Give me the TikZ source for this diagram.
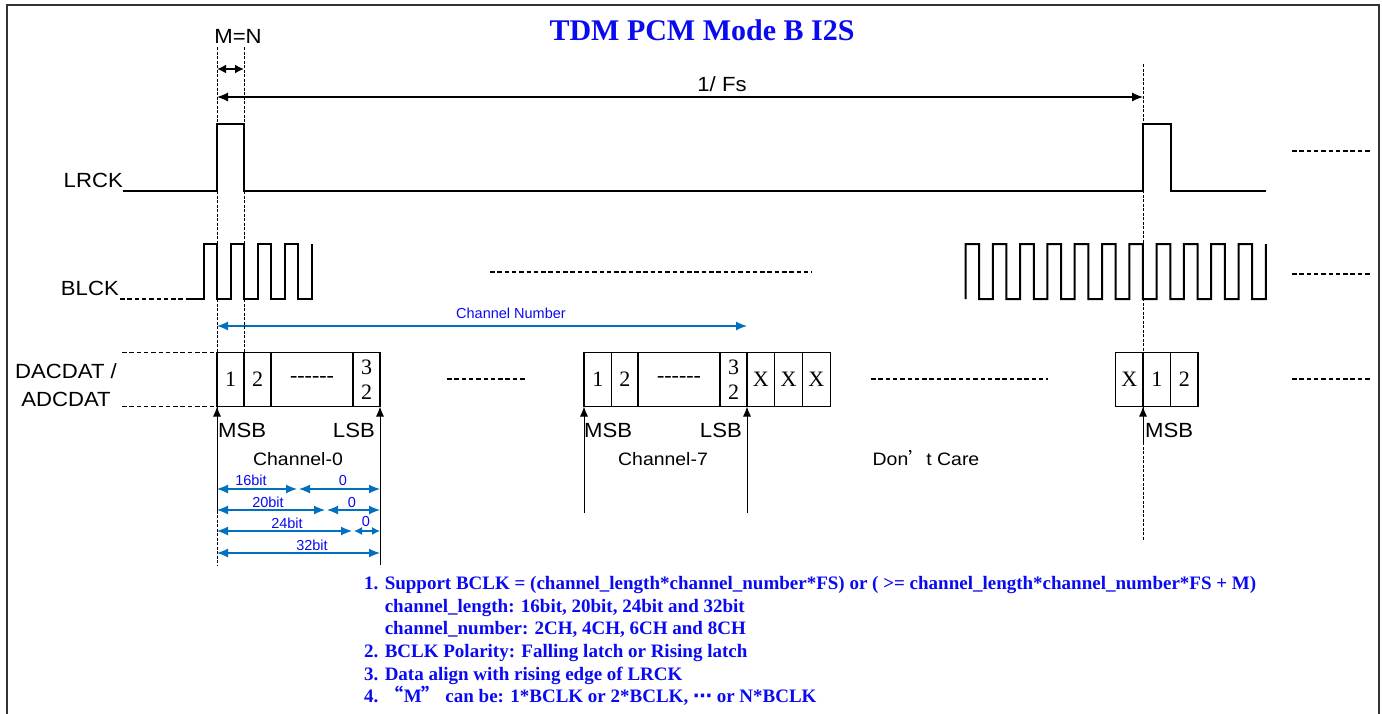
\documentclass[tikz,border=0pt]{standalone}
\usepackage{fontspec}
\setmainfont{Liberation Serif}
\newfontfamily\lab{Liberation Sans}[FakeStretch=1.08]
\newfontfamily\sml{Liberation Sans}
\newfontfamily\cjk{Noto Sans CJK SC}[RawFeature=+fwid]
\newfontfamily\sym{DejaVu Sans}
\usetikzlibrary{arrows.meta,positioning}
\definecolor{ink}{HTML}{0A0AF0}
\definecolor{dimc}{HTML}{0070C0}

\begin{document}
\begin{tikzpicture}[x=1pt, y=-1pt, >=Latex,
  wave/.style={line width=2pt, line join=miter},
  guide/.style={line width=0.8pt, dash pattern=on 3pt off 1.5pt},
  dots/.style={line width=1.6pt, dash pattern=on 4.5pt off 2.8pt},
  cell/.style={draw, line width=1.1pt, minimum height=54pt, inner sep=0pt, outer sep=0pt,
    font=\fontsize{22}{25}\selectfont},
  biglab/.style={font=\lab\fontsize{20.5}{28}\selectfont, inner sep=0pt},
  chlab/.style={font=\lab\fontsize{18}{20}\selectfont, inner sep=0pt},
  dim/.style={dimc, line width=1.2pt, {Latex[length=11pt,width=9pt]}-{Latex[length=11pt,width=9pt]}},
  dimlab/.style={ink, font=\sml\fontsize{14.5}{16}\selectfont, inner sep=0pt},
  ptr/.style={line width=1pt, -{Latex[length=10pt,width=8pt]}}]
\useasboundingbox (0,0) rectangle (1382,713);
\draw[line width=2pt, black!80] (7,720) -- (7,4.5) -- (1379,4.5) -- (1379,720);

\node[ink, font=\bfseries\fontsize{30}{32}\selectfont, anchor=base] (title) at (702,40) {TDM PCM Mode B I2S};

% signal names
\node[biglab, anchor=base east] (lrck) at (123,187) {LRCK};
\node[biglab, anchor=base east] (blck) at (119,295) {BLCK};
\node[biglab, align=center] (dat) at (66,385) {DACDAT /\\ADCDAT};

% frame start / next frame
\coordinate (g0t) at (217,47);
\coordinate (g0b) at (217,565);
\coordinate (g1t) at (244,47);
\coordinate (gft) at (1143,64);
\coordinate (gfb) at (1143,540);
\draw[guide] (g0t) -- (g0b);
\draw[guide] (gft) -- (gfb);

\node[biglab, anchor=base] (mn) at (238,43) {M=N};
\coordinate (mnl) at (217,69);
\coordinate (mnr) at (244,69);
\draw[line width=2.2pt, {Latex[length=9pt,width=9pt]}-{Latex[length=9pt,width=9pt]}] (mnl) -- (mnr);

\node[biglab, anchor=base] (fs) at (722,91) {1/ Fs};
\coordinate (fsl) at (217,97);
\coordinate (fsr) at (1143,97);
\draw[line width=1.1pt, {Latex[length=11pt,width=9pt]}-{Latex[length=11pt,width=9pt]}] (fsl) -- (fsr);

% LRCK
\draw[wave] (lrck.base east |- 0,191) -- (217,191) -- (217,124) -- (244,124) -- (244,191)
  -- (1143,191) -- (1143,124) -- (1171,124) -- (1171,191) -- (1266,191);

% BLCK
\draw[dots] (120,299) -- (190,299);
\draw[wave] (190,299) \foreach \k in {0,...,3}{
  -- ({203.5+27*\k},299) -- ({203.5+27*\k},244) -- ({217+27*\k},244) -- ({217+27*\k},299)}
  -- (311.5,299) -- (311.5,244);
\draw[wave] (965.5,299) \foreach \k in {0,...,10}{
  -- ({965.5+27.3*\k},244) -- ({979.15+27.3*\k},244) -- ({979.15+27.3*\k},299) -- ({992.8+27.3*\k},299)}
  -- (1265.8,244);

\foreach \xa/\xb/\y in {490/812/272, 447/527/379, 871/1048/379,
    1292/1372/151, 1292/1372/274, 1292/1372/379}
  \draw[dots] (\xa,\y) -- (\xb,\y);

\node[dimlab] (chnum) at (511,313) {Channel Number};
\coordinate (cnl) at (217,326);
\coordinate (cnr) at (747,326);
\draw[dim] (cnl) -- (cnr);

% channel 0
\node[cell, minimum width=27pt, anchor=north west] (c01) at (217,352.5) {1};
\node[cell, minimum width=27pt, right=0pt of c01] (c02) {2};
\node[cell, minimum width=82pt, right=0pt of c02] (c0d) {-{}-{}-{}-{}-{}-};
\node[cell, minimum width=27pt, right=0pt of c0d, align=center] (c032) {3\\2};
\draw[guide] (g1t) -- (c02.north west);
\coordinate (dtop) at (122,352.5);
\coordinate (dbot) at (122,406.5);
\draw[dots] (dtop) -- (c01.north west);
\draw[dots] (dbot) -- (c01.south west);

\coordinate (m0) at (217,512);
\coordinate (l0) at (380,565);
\draw[ptr] (m0) -- (c01.south west);
\draw[ptr] (l0) -- (c032.south east);
\node[biglab, anchor=base west] (msb0) at (218,437) {MSB};
\node[biglab, anchor=base east] (lsb0) at (375,437) {LSB};
\node[chlab, anchor=base] (ch0) at (298,465) {Channel-0};

% bit widths
\coordinate (b16a) at (217,489);
\coordinate (b16b) at (297,489);
\coordinate (b16c) at (299,489);
\coordinate (b16d) at (380,489);
\draw[dim] (b16a) -- (b16b);
\draw[dim] (b16c) -- (b16d);
\node[dimlab] (t16) at (251,480) {16bit};
\node[dimlab] (z16) at (343,480) {0};

\coordinate (b20a) at (217,510);
\coordinate (b20b) at (325,510);
\coordinate (b20c) at (327,510);
\coordinate (b20d) at (380,510);
\draw[dim] (b20a) -- (b20b);
\draw[dim] (b20c) -- (b20d);
\node[dimlab] (t20) at (268,502) {20bit};
\node[dimlab] (z20) at (352,502) {0};

\coordinate (b24a) at (217,531);
\coordinate (b24b) at (352,531);
\coordinate (b24c) at (354,531);
\coordinate (b24d) at (380,531);
\draw[dim] (b24a) -- (b24b);
\draw[dim, {Latex[length=8pt,width=8pt]}-{Latex[length=8pt,width=8pt]}] (b24c) -- (b24d);
\node[dimlab] (t24) at (287,523) {24bit};
\node[dimlab] (z24) at (366,521) {0};

\coordinate (b32a) at (217,553);
\coordinate (b32d) at (380,553);
\draw[dim] (b32a) -- (b32d);
\node[dimlab] (t32) at (312,545) {32bit};

% channel 7
\node[cell, minimum width=27.5pt, anchor=north west] (c71) at (584,352.5) {1};
\node[cell, minimum width=26.5pt, right=0pt of c71] (c72) {2};
\node[cell, minimum width=82pt, right=0pt of c72] (c7d) {-{}-{}-{}-{}-{}-};
\node[cell, minimum width=27pt, right=0pt of c7d, align=center] (c732) {3\\2};
\node[cell, minimum width=27.7pt, right=0pt of c732] (c7x1) {X};
\node[cell, minimum width=27.7pt, right=0pt of c7x1] (c7x2) {X};
\node[cell, minimum width=27.7pt, right=0pt of c7x2] (c7x3) {X};

\coordinate (m7) at (584,513);
\coordinate (l7) at (747,513);
\draw[ptr] (m7) -- (c71.south west);
\draw[ptr] (l7) -- (c732.south east);
\node[biglab, anchor=base west] (msb7) at (584,437) {MSB};
\node[biglab, anchor=base east] (lsb7) at (742,437) {LSB};
\node[chlab, anchor=base] (ch7) at (663,465) {Channel-7};

\node[chlab, anchor=base] (dc) at (926,465) {Don{\cjk ’}t Care};

% next frame
\node[cell, minimum width=27.5pt, anchor=north west] (crx) at (1115.5,352.5) {X};
\node[cell, minimum width=27.5pt, right=0pt of crx] (cr1) {1};
\node[cell, minimum width=27.5pt, right=0pt of cr1] (cr2) {2};
\coordinate (mr) at (1143,442);
\draw[ptr] (mr) -- (cr1.south west);
\node[biglab, anchor=base west] (msbr) at (1145,437) {MSB};

% notes
\node[ink, font=\bfseries\fontsize{19}{22.7}\selectfont, align=left, inner sep=0pt,
  anchor=north west] (notes) at (364,576) {%
  1. Support BCLK = (channel\_length*channel\_number*FS) or ( >= channel\_length*channel\_number*FS + M)\\
  \phantom{1. }channel\_length: 16bit, 20bit, 24bit and 32bit\\
  \phantom{1. }channel\_number: 2CH, 4CH, 6CH and 8CH\\
  2. BCLK Polarity: Falling latch or Rising latch\\
  3. Data align with rising edge of LRCK\\
  4. {\cjk “}M{\cjk ”} can be: 1*BCLK or 2*BCLK, {\sym ⋯} or N*BCLK};
\end{tikzpicture}
\end{document}
